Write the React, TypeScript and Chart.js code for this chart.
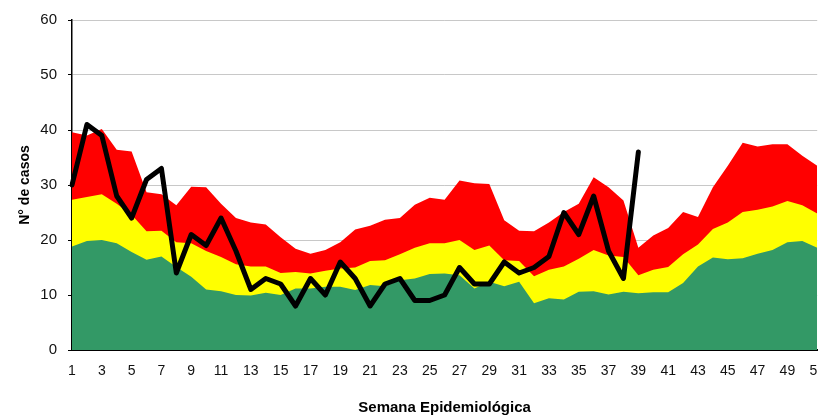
import React, { useEffect, useRef } from "react";
import { Chart, registerables } from "chart.js";

Chart.register(...registerables);

const weeks: string[] = Array.from({ length: 51 }, (_, i) => String(i + 1));

const casos: (number | null)[] = [
  30, 41, 39, 28, 24, 31, 33, 14, 21, 19, 24, 18, 11, 13, 12, 8, 13, 10, 16, 13,
  8, 12, 13, 9, 9, 10, 15, 12, 12, 16, 14, 15, 17, 25, 21, 28, 18, 13, 36,
  null, null, null, null, null, null, null, null, null, null, null, null,
];

const zonaExito: number[] = [
  18.8, 19.8, 20, 19.4, 17.8, 16.4, 17, 15.1, 13.3, 11, 10.7, 10, 9.9, 10.4, 10,
  11.2, 11.2, 11.5, 11.5, 10.9, 11.8, 11.6, 12.7, 13, 13.8, 13.9, 13.6, 11.2, 12.4,
  11.6, 12.4, 8.5, 9.4, 9.2, 10.6, 10.7, 10.1, 10.6, 10.3, 10.5, 10.5, 12.2, 15.2,
  16.8, 16.5, 16.7, 17.5, 18.2, 19.6, 19.8, 18.6,
];

const zonaSeguridad: number[] = [
  27.3, 27.8, 28.3, 26.6, 24.6, 21.6, 21.7, 19.6, 19.4, 18, 16.9, 15.6, 15.2, 15.2,
  14, 14.2, 13.9, 14.4, 14.8, 15, 16.2, 16.3, 17.4, 18.6, 19.4, 19.4, 20, 18.2, 19,
  16.3, 16.2, 13.4, 14.6, 15.2, 16.6, 18.2, 17.2, 16.9, 13.6, 14.6, 15.1, 17.4, 19.2,
  22, 23.2, 25.1, 25.5, 26.1, 27.1, 26.3, 24.8,
];

const zonaAlarma: number[] = [
  39.6, 39, 40.2, 36.4, 36.1, 28.7, 28.3, 26.3, 29.7, 29.6, 26.6, 24, 23.2, 22.8,
  20.5, 18.4, 17.5, 18.2, 19.6, 21.9, 22.6, 23.7, 24, 26.4, 27.7, 27.3, 30.8, 30.3,
  30.2, 23.6, 21.7, 21.6, 23.2, 25.1, 26.6, 31.4, 29.6, 27.2, 18.6, 20.8, 22.2, 25.1,
  24.2, 29.6, 33.5, 37.7, 37, 37.4, 37.4, 35.3, 33.5,
];

const yTicks = [0, 10, 20, 30, 40, 50, 60];

const FONT = "'Liberation Sans', Arial, sans-serif";

export default function App() {
  const ref = useRef<HTMLCanvasElement | null>(null);

  useEffect(() => {
    if (!ref.current) return;
    const chart = new Chart(ref.current, {
      type: "line",
      data: {
        labels: weeks,
        datasets: [
          {
            label: "Casos",
            data: casos,
            borderColor: "#000000",
            borderWidth: 5,
            pointRadius: 0,
            fill: false,
            tension: 0,
            order: 0,
            borderJoinStyle: "round",
            borderCapStyle: "round",
          },
          {
            label: "Éxito",
            data: zonaExito,
            backgroundColor: "#339966",
            borderWidth: 0,
            borderColor: "#339966",
            pointRadius: 0,
            fill: "origin",
            order: 1,
          },
          {
            label: "Seguridad",
            data: zonaSeguridad,
            backgroundColor: "#FFFF00",
            borderWidth: 0,
            borderColor: "#FFFF00",
            pointRadius: 0,
            fill: "origin",
            order: 2,
          },
          {
            label: "Alarma",
            data: zonaAlarma,
            backgroundColor: "#FF0000",
            borderWidth: 0,
            borderColor: "#FF0000",
            pointRadius: 0,
            fill: "origin",
            order: 3,
          },
        ],
      },
      options: {
        responsive: false,
        animation: false,
        layout: { padding: { left: 17, top: 17, right: 0, bottom: 0 } },
        plugins: {
          legend: { display: false },
          tooltip: { enabled: false },
        },
        scales: {
          x: {
            type: "category",
            offset: false,
            grid: { display: false, drawTicks: false },
            border: { display: true, color: "#000000", width: 2 },
            ticks: {
              autoSkip: false,
              maxRotation: 0,
              minRotation: 0,
              padding: 13,
              color: "#111111",
              font: { family: FONT, size: 14 },
              callback: (_v: any, i: number) => (i % 2 === 0 ? weeks[i] : ""),
            },
            title: {
              display: true,
              text: "Semana Epidemiológica",
              color: "#000000",
              font: { family: FONT, size: 15, weight: "bold" },
              padding: { top: 0, bottom: 1 },
            },
            afterFit: (s: any) => {
              s.height = 68;
            },
          },
          y: {
            min: 0,
            max: 60,
            afterBuildTicks: (s: any) => {
              s.ticks = yTicks.map((v) => ({ value: v }));
            },
            grid: {
              color: "#c8c8c8",
              lineWidth: 1,
              drawTicks: true,
              tickLength: 4,
              tickColor: "#000000",
            },
            border: { display: true, color: "#000000", width: 1.5 },
            ticks: {
              padding: 11,
              color: "#111111",
              font: { family: FONT, size: 15 },
            },
            title: {
              display: true,
              text: "N° de casos",
              color: "#000000",
              font: { family: FONT, size: 14, weight: "bold" },
              padding: { top: 0, bottom: 0 },
            },
            afterFit: (s: any) => {
              s.width = 55;
            },
          },
        },
      },
    } as any);
    return () => chart.destroy();
  }, []);

  return (
    <div
      style={{
        position: "fixed",
        left: 0,
        top: 0,
        width: 818,
        height: 418,
        overflow: "hidden",
        background: "#ffffff",
      }}
    >
      <canvas ref={ref} width={838} height={418} style={{ display: "block" }} />
    </div>
  );
}
